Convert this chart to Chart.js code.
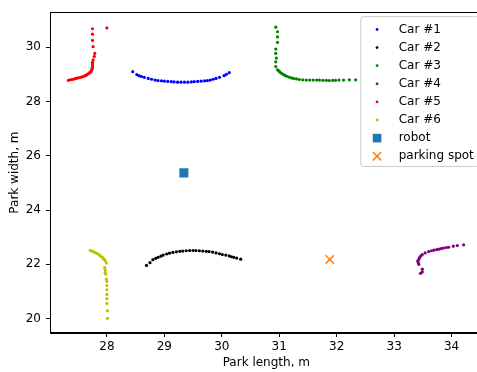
<!DOCTYPE html>
<html lang="en">
<head>
<meta charset="UTF-8">
<title>Parking scan</title>
<script src="https://cdn.jsdelivr.net/npm/chart.js"></script>
<style>
  html, body { margin: 0; padding: 0; background: #fff; overflow: hidden; }
  #wrap { width: 477px; height: 372px; overflow: hidden; }
  canvas { display: block; }
</style>
</head>
<body>
<div id="wrap"><canvas id="plot" width="490" height="372"></canvas></div>
<script>
// scan points (m)
const car1X = [28.45, 28.52, 28.56, 28.60, 28.65, 28.72, 28.78, 28.84, 28.89, 28.95, 29.00, 29.06, 29.12, 29.17, 29.23, 29.29, 29.35, 29.41, 29.47, 29.52, 29.58, 29.64, 29.70, 29.75, 29.80, 29.85, 29.90, 29.96, 30.04, 30.08, 30.13];
const car1Y = [29.10, 28.99, 28.95, 28.92, 28.89, 28.85, 28.82, 28.79, 28.77, 28.76, 28.75, 28.74, 28.73, 28.72, 28.71, 28.71, 28.71, 28.71, 28.72, 28.73, 28.74, 28.75, 28.76, 28.77, 28.79, 28.82, 28.85, 28.89, 28.95, 29.00, 29.06];

const car2X = [28.69, 28.75, 28.80, 28.85, 28.89, 28.94, 28.98, 29.04, 29.09, 29.15, 29.21, 29.27, 29.32, 29.38, 29.44, 29.50, 29.55, 29.61, 29.67, 29.73, 29.78, 29.84, 29.90, 29.96, 30.01, 30.07, 30.13, 30.17, 30.21, 30.26, 30.33];
const car2Y = [21.96, 22.06, 22.17, 22.22, 22.26, 22.30, 22.34, 22.38, 22.41, 22.44, 22.46, 22.48, 22.49, 22.50, 22.51, 22.51, 22.51, 22.50, 22.49, 22.48, 22.47, 22.45, 22.42, 22.39, 22.36, 22.34, 22.31, 22.28, 22.26, 22.23, 22.19];

const car3X = [30.94, 30.97, 30.97, 30.97, 30.94, 30.94, 30.95, 30.94, 30.94, 30.97, 30.99, 31.01, 31.04, 31.07, 31.10, 31.13, 31.17, 31.21, 31.25, 31.30, 31.35, 31.41, 31.47, 31.53, 31.59, 31.65, 31.70, 31.76, 31.82, 31.87, 31.93, 31.98, 32.04, 32.12, 32.22, 32.33];
const car3Y = [30.74, 30.57, 30.38, 30.18, 29.93, 29.77, 29.60, 29.46, 29.29, 29.17, 29.13, 29.09, 29.04, 29.00, 28.96, 28.93, 28.90, 28.87, 28.85, 28.83, 28.81, 28.80, 28.79, 28.79, 28.79, 28.79, 28.79, 28.78, 28.78, 28.77, 28.78, 28.78, 28.79, 28.79, 28.80, 28.80];

const car4X = [33.46, 33.49, 33.49, 33.43, 33.42, 33.41, 33.43, 33.44, 33.46, 33.49, 33.54, 33.60, 33.65, 33.69, 33.74, 33.78, 33.82, 33.86, 33.91, 33.95, 34.03, 34.10, 34.21];
const car4Y = [21.67, 21.72, 21.82, 22.00, 22.06, 22.12, 22.18, 22.24, 22.30, 22.36, 22.42, 22.47, 22.50, 22.52, 22.54, 22.56, 22.58, 22.60, 22.62, 22.63, 22.67, 22.69, 22.72];

const car5X = [28.00, 27.75, 27.75, 27.75, 27.76, 27.79, 27.78, 27.76, 27.75, 27.75, 27.75, 27.75, 27.74, 27.73, 27.72, 27.70, 27.68, 27.66, 27.64, 27.62, 27.60, 27.57, 27.54, 27.51, 27.48, 27.45, 27.42, 27.39, 27.36, 27.33];
const car5Y = [30.71, 30.68, 30.48, 30.25, 30.02, 29.77, 29.66, 29.53, 29.45, 29.38, 29.31, 29.25, 29.19, 29.14, 29.09, 29.06, 29.03, 29.00, 28.97, 28.95, 28.93, 28.91, 28.89, 28.875, 28.86, 28.84, 28.82, 28.81, 28.80, 28.78];

const car6X = [27.71, 27.74, 27.77, 27.80, 27.83, 27.86, 27.88, 27.91, 27.93, 27.95, 27.97, 27.99, 27.96, 27.97, 27.97, 27.98, 27.99, 28.00, 28.00, 28.00, 28.00, 28.00, 28.00, 28.01, 28.01];
const car6Y = [22.51, 22.49, 22.46, 22.43, 22.40, 22.36, 22.32, 22.28, 22.24, 22.19, 22.14, 22.05, 21.88, 21.80, 21.71, 21.64, 21.46, 21.37, 21.22, 21.06, 20.89, 20.74, 20.56, 20.29, 20.01];

const robotX = [29.34];
const robotY = [25.37];
const spotX = [31.88];
const spotY = [22.18];

const xTicks = [28, 29, 30, 31, 32, 33, 34];
const yTicks = [20, 22, 24, 26, 28, 30];

const FONT = { family: '"DejaVu Sans", sans-serif', size: 12 };

function pts(xs, ys) {
  return xs.map((x, i) => ({ x: x, y: ys[i] }));
}

function carSet(label, xs, ys, color) {
  return {
    label: label,
    data: pts(xs, ys),
    backgroundColor: color,
    borderColor: color,
    pointRadius: 1.6,
    pointBorderWidth: 0,
    pointHoverRadius: 1.6,
    showLine: false
  };
}

const datasets = [
  carSet('Car #1', car1X, car1Y, '#0000ff'),
  carSet('Car #2', car2X, car2Y, '#000000'),
  carSet('Car #3', car3X, car3Y, '#008000'),
  carSet('Car #4', car4X, car4Y, '#800080'),
  carSet('Car #5', car5X, car5Y, '#ff0000'),
  carSet('Car #6', car6X, car6Y, '#bfbf00'),
  {
    label: 'robot',
    data: pts(robotX, robotY),
    pointStyle: 'rect',
    pointRadius: 6.4,
    pointBorderWidth: 0,
    backgroundColor: '#1f77b4',
    borderColor: '#1f77b4'
  },
  {
    label: 'parking spot',
    data: pts(spotX, spotY),
    pointStyle: 'crossRot',
    pointRadius: 5.9,
    pointBorderWidth: 1.5,
    backgroundColor: '#ff7f0e',
    borderColor: '#ff7f0e'
  }
];

// frame on all four sides + matplotlib-like legend box in the upper right
const framePlugin = {
  id: 'frameAndLegend',
  afterDraw(chart) {
    const ctx = chart.ctx;
    const a = chart.chartArea;
    ctx.save();
    ctx.strokeStyle = '#000';
    ctx.lineWidth = 1;
    ctx.strokeRect(Math.round(a.left) + 0.5, Math.round(a.top) + 0.5,
      Math.round(a.right - a.left) - 1, Math.round(a.bottom - a.top) - 1);

    ctx.font = FONT.size + 'px ' + FONT.family;
    const sets = chart.data.datasets;
    let tw = 0;
    sets.forEach(d => { tw = Math.max(tw, ctx.measureText(d.label).width); });
    const pad = 4.8, handle = 24, gap = 9.6, rowH = 18.1;
    const w = pad + handle + gap + tw + pad;
    const h = rowH * sets.length + 5;
    const x0 = a.right - 4 - w;
    const y0 = a.top + 4;

    ctx.beginPath();
    if (ctx.roundRect) ctx.roundRect(x0 + 0.5, y0 + 0.5, w, h, 2.5);
    else ctx.rect(x0 + 0.5, y0 + 0.5, w, h);
    ctx.fillStyle = 'rgba(255,255,255,0.8)';
    ctx.fill();
    ctx.strokeStyle = '#cccccc';
    ctx.stroke();

    const mx = x0 + pad + handle / 2;
    const tx = x0 + pad + handle + gap;
    sets.forEach((d, i) => {
      const cy = y0 + 13.3 + i * rowH;
      const c = d.backgroundColor;
      if (d.pointStyle === 'rect') {
        ctx.fillStyle = c;
        ctx.fillRect(mx - 4.3, cy - 4.3, 8.6, 8.6);
      } else if (d.pointStyle === 'crossRot') {
        ctx.strokeStyle = c;
        ctx.lineWidth = 1.5;
        ctx.beginPath();
        ctx.moveTo(mx - 4.2, cy - 4.2); ctx.lineTo(mx + 4.2, cy + 4.2);
        ctx.moveTo(mx - 4.2, cy + 4.2); ctx.lineTo(mx + 4.2, cy - 4.2);
        ctx.stroke();
      } else {
        ctx.fillStyle = c;
        ctx.beginPath();
        ctx.arc(mx, cy, 1.4, 0, Math.PI * 2);
        ctx.fill();
      }
      ctx.fillStyle = '#000';
      ctx.textBaseline = 'middle';
      ctx.textAlign = 'left';
      ctx.fillText(d.label, tx, cy);
    });
    ctx.restore();
  }
};

new Chart(document.getElementById('plot'), {
  type: 'scatter',
  data: { datasets: datasets },
  plugins: [framePlugin],
  options: {
    responsive: false,
    animation: false,
    devicePixelRatio: 1,
    layout: { padding: { top: 6, right: 4, left: 0, bottom: 0 } },
    plugins: {
      legend: { display: false },
      tooltip: { enabled: false }
    },
    scales: {
      x: {
        type: 'linear',
        min: 27.01,
        max: 34.54,
        afterBuildTicks: s => { s.ticks = xTicks.map(v => ({ value: v })); },
        afterFit: s => { s.height = 39; },
        grid: { display: true, drawOnChartArea: false, drawTicks: true, tickLength: 4, color: '#000' },
        border: { display: true, color: '#000' },
        ticks: { color: '#000', font: FONT, padding: 3, maxRotation: 0, callback: v => String(v) },
        title: { display: true, text: 'Park length, m', color: '#000', font: FONT, padding: { top: 0, bottom: 2 } }
      },
      y: {
        type: 'linear',
        min: 19.47,
        max: 31.29,
        afterBuildTicks: s => { s.ticks = yTicks.map(v => ({ value: v })); },
        afterFit: s => { s.width = 50; },
        grid: { display: true, drawOnChartArea: false, drawTicks: true, tickLength: 4, color: '#000' },
        border: { display: true, color: '#000' },
        ticks: { color: '#000', font: FONT, padding: 5, callback: v => String(v) },
        title: { display: true, text: 'Park width, m', color: '#000', font: FONT, padding: { top: 8, bottom: 0 } }
      }
    }
  }
});
</script>
</body>
</html>
